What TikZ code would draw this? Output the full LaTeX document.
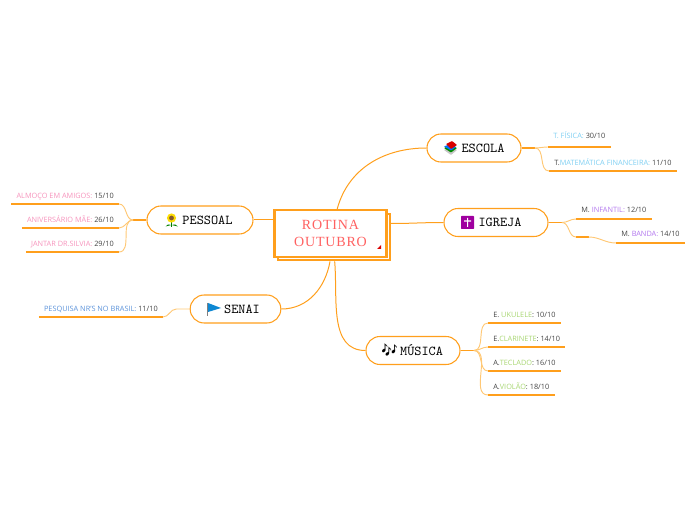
\documentclass[tikz,border=0pt]{standalone}
\usepackage{fontspec}
\setmainfont{Open Sans}
\newfontfamily\titlefont[LetterSpace=6]{Liberation Serif}
\newfontfamily\emojifont{Noto Emoji}
\usetikzlibrary{positioning,calc}
\definecolor{accent}{HTML}{FF9F1C}
\definecolor{soft}{HTML}{FFC875}
\definecolor{datetxt}{HTML}{444444}
\definecolor{cesc}{HTML}{7FCFF2}
\definecolor{cigr}{HTML}{B277EE}
\definecolor{cmus}{HTML}{A8D672}
\definecolor{cpes}{HTML}{F693BC}
\definecolor{csen}{HTML}{5C93DA}
\tikzset{
  rootbox/.style={rectangle,draw=accent,fill=white,line width=1.6pt,minimum width=84pt,
    minimum height=35pt,align=center,font=\titlefont\fontsize{10.5}{12.8}\selectfont,text=red!62!white},
  topic/.style={rectangle,draw=accent,fill=white,rounded corners=10.5pt,line width=.8pt,
    minimum height=21pt,inner sep=0pt,font=\ttfamily\fontsize{10.2}{11}\selectfont},
  leafr/.style={anchor=south west,inner xsep=3.75pt,inner ysep=3.2pt,text height=4pt,text depth=.9pt,
    font=\fontsize{5.5}{6}\selectfont,text=datetxt},
  leafl/.style={leafr,anchor=south east},
  ul/.style={draw=accent,line width=1.3pt},
  stem/.style={draw=accent,line width=1pt},
  fl/.style={draw=accent,line width=.75pt},
  sub/.style={draw=soft,line width=.7pt},
}
\begin{document}
\begin{tikzpicture}[x=.75pt,y=-.75pt]
  \useasboundingbox (0,0) rectangle (696,520);
  % centre
  \node[rootbox] (rootb) at (334,237) {};
  \node[rootbox] (root) at (330.5,233.5) {ROTINA\\OUTUBRO};
  \fill[red!85!black] (381,245) -- (381,249) -- (377,249) -- cycle;
  % topics
  \node[topic,minimum width=70.5pt] (escola) at (474,148) {\hspace{13.5pt}ESCOLA};
  \node[topic,minimum width=78pt] (igreja) at (496,222.5) {\hspace{6pt}IGREJA};
  \node[topic,minimum width=70.5pt] (musica) at (413,350.5) {\hspace{12.8pt}MÚSICA};
  \node[topic,minimum width=79.5pt] (pessoal) at (200,220) {\hspace{11.2pt}PESSOAL};
  \node[topic,minimum width=68pt] (senai) at (235.5,309) {\hspace{9.8pt}SENAI};
  % leaves
  \node[leafr,inner ysep=5.2pt] (fisica) at (548,147) {\textcolor{cesc}{T. FÍSICA:} 30/10};
  \node[leafr] (matem) at (549,171) {T.\textcolor{cesc}{MATEMÁTICA FINANCEIRA:} 11/10};
  \node[leafr,inner ysep=4pt] (infantil) at (576,219) {M. \textcolor{cigr}{INFANTIL:} 12/10};
  \node[leafr,minimum width=9pt,inner xsep=0pt] (stub) at (576,237) {};
  \node[leafr,inner ysep=4pt] (banda) at (616,243) {M. \textcolor{cigr}{BANDA:} 14/10};
  \node[leafr] (ukulele) at (488,323) {E. \textcolor{cmus}{UKULELE}: 10/10};
  \node[leafr] (clarinete) at (488,347) {E.\textcolor{cmus}{CLARINETE}: 14/10};
  \node[leafr] (teclado) at (488,371) {A.\textcolor{cmus}{TECLADO}: 16/10};
  \node[leafr] (violao) at (488,395) {A.\textcolor{cmus}{VIOLÃO}: 18/10};
  \node[leafl] (almoco) at (119,204) {\textcolor{cpes}{ALMOÇO EM AMIGOS:} 15/10};
  \node[leafl] (aniver) at (119,228) {\textcolor{cpes}{ANIVERSÁRIO MÃE:} 26/10};
  \node[leafl] (jantar) at (119,252) {\textcolor{cpes}{JANTAR DR.SILVIA:} 29/10};
  \node[leafl] (pesquisa) at (163,317) {\textcolor{csen}{PESQUISA NR'S NO BRASIL:} 11/10};
  \foreach \n in {fisica,matem,infantil,stub,banda,ukulele,clarinete,teclado,violao,almoco,aniver,jantar,pesquisa}
    \draw[ul] (\n.south west)--(\n.south east);
  % main branches
  \draw[fl] ([xshift=5pt]root.north) to[out=75,in=180] (escola.west);
  \draw[fl] (rootb.east|-igreja.west) ++(0,1) to[out=0,in=180] (igreja.west);
  \draw[fl] ([xshift=.5pt]rootb.south) to[out=-85,in=180] (musica.west);
  \draw[fl] ([xshift=-3pt]rootb.south) to[out=-100,in=0] (senai.east);
  \draw[fl] (root.west|-pessoal.east) -- (pessoal.east);
  % sub branches
  \coordinate[right=10pt of escola.east] (escj);
  \coordinate[right=10pt of igreja.east] (igrj);
  \coordinate[right=10pt of musica.east] (musj);
  \coordinate[left=10pt of pessoal.west] (pesj);
  \coordinate[left=10pt of senai.west] (senj);
  \foreach \a/\b in {escola.east/escj,igreja.east/igrj,musica.east/musj,pessoal.west/pesj}
    \draw[stem] (\a)--(\b);
  \foreach \n in {fisica,matem} \draw[sub] (escj) to[out=0,in=180] (\n.south west);
  \foreach \n in {infantil,stub} \draw[sub] (igrj) to[out=0,in=180] (\n.south west);
  \draw[sub] (stub.south east) to[out=0,in=180] (banda.south west);
  \foreach \n in {ukulele,clarinete,teclado,violao} \draw[sub] (musj) to[out=0,in=180] (\n.south west);
  \foreach \n in {almoco,aniver,jantar} \draw[sub] (pesj) to[out=180,in=0] (\n.south east);
  \draw[sub] (senai.west)--(senj) to[out=180,in=0] (pesquisa.south east);
  % icons
  \begin{scope}[rounded corners=.4pt]
    \fill[gray!45] (444,150) -- (450,147) -- (457,150) -- (451,155) -- cycle;
    \fill[green!55!black] (444,148) -- (450,145) -- (457,148) -- (451,152.5) -- cycle;
    \fill[blue!55!cyan] (444,146.5) -- (450,144) -- (456,147) -- (451,150.5) -- cycle;
    \fill[red!85!black] (446,144) -- (452,141) -- (457,145) -- (451,149) -- cycle;
    \fill[violet!75!magenta] (461,216) rectangle (474,229);
  \end{scope}
  \fill[white] (467,218) rectangle (468.2,227) (464,220.5) rectangle (471.2,221.7);
  \fill[green!50!black] (171.5,225) -- (165.5,226.5) -- (168,224.5) -- cycle
    (171.5,225) -- (178,226.5) -- (175,224.5) -- cycle;
  \draw[green!50!black,line width=.4pt] (171.5,221) -- (171.5,227);
  \fill[yellow!80!orange] (171.5,218) circle (4.6);
  \fill[brown!70!black] (171.5,218) circle (2.4);
  \draw[gray,line width=.5pt] (207.5,303) -- (207.5,316);
  \fill[cyan!70!blue] (208,303) -- (221,308) -- (208,312) -- cycle;
  \node[inner sep=0pt,font=\emojifont\fontsize{10}{10}\selectfont] (notas) at (389.5,350) {🎶};
\end{tikzpicture}
\end{document}
